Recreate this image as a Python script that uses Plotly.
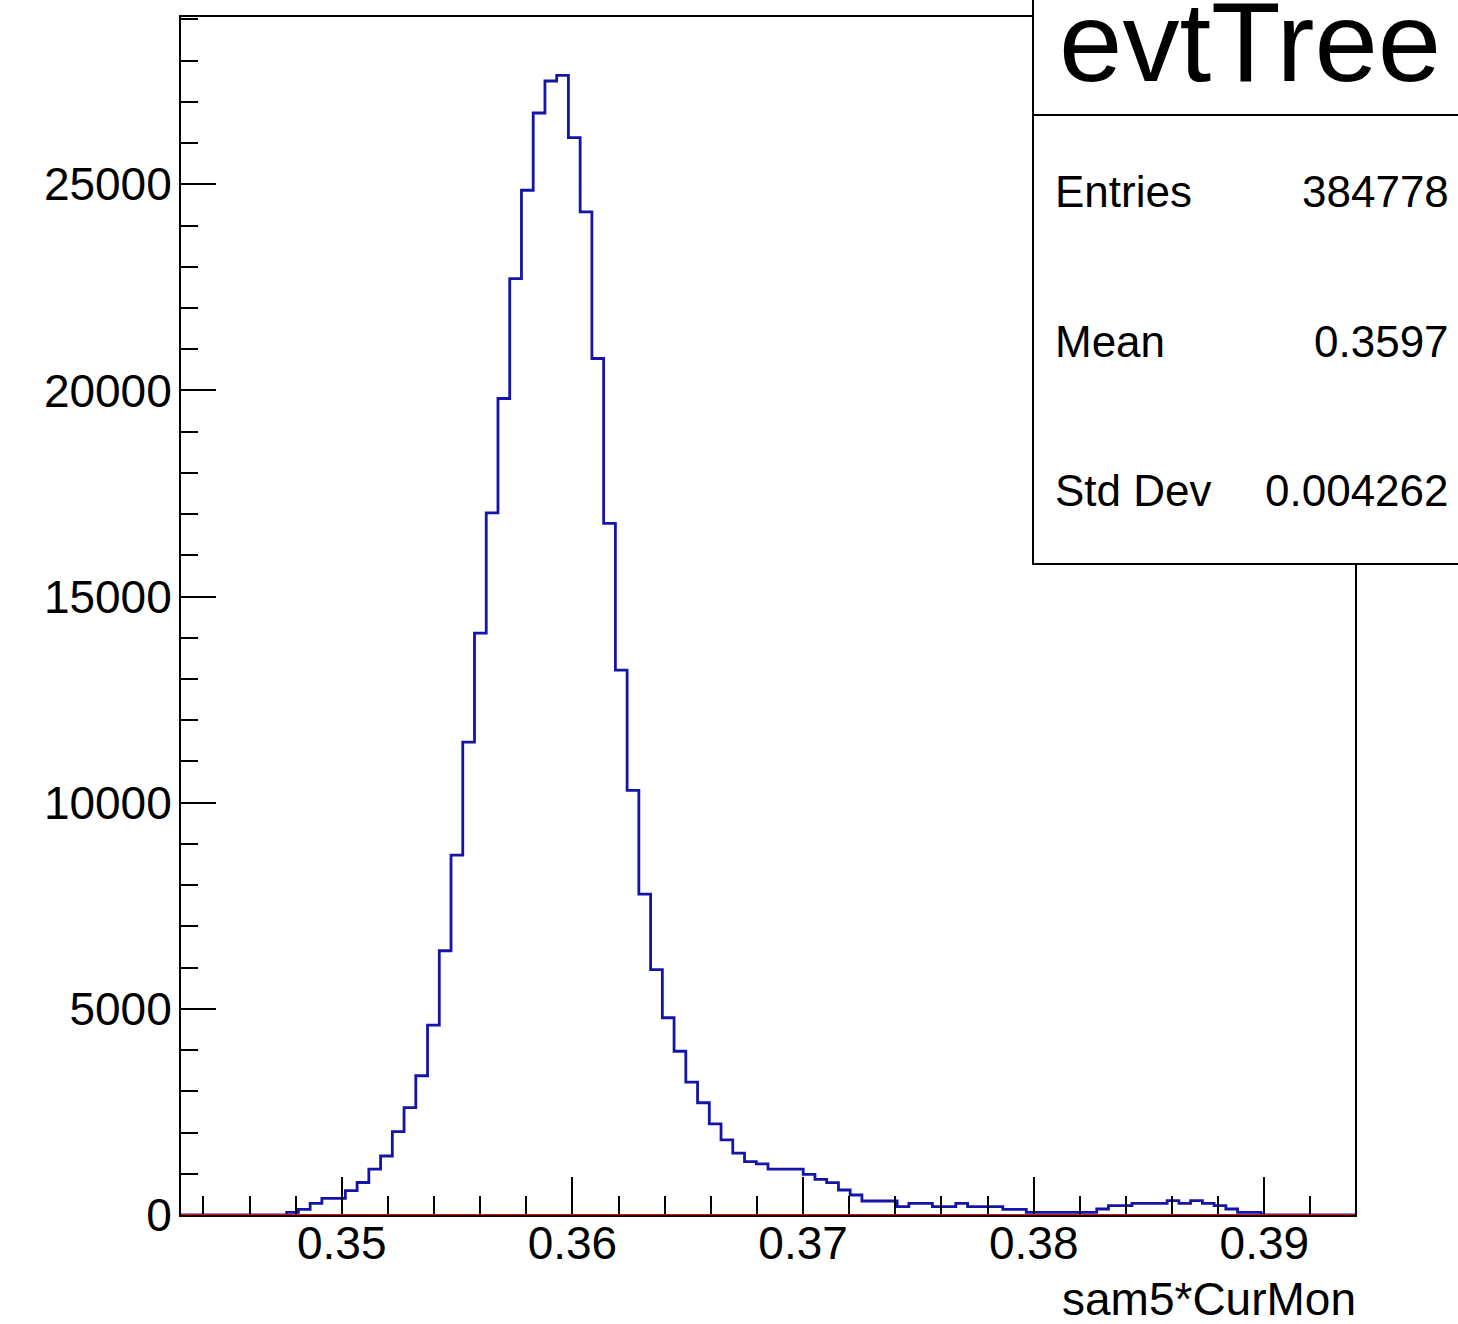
import plotly.graph_objects as go

# ---------------- data ----------------
N_BINS = 100
X_MIN = 0.34303
X_MAX = 0.39393
Y_MAX = 29057

counts = [
    0, 0, 0, 0, 0, 0, 0, 0, 0, 65,
    138, 284, 405, 405, 589, 788, 1115, 1431, 2020, 2602,
    3378, 4607, 6409, 8730, 11469, 14113, 17030, 19804, 22713, 24855,
    26729, 27505, 27643, 26133, 24328, 20774, 16773, 13215, 10298, 7781,
    5953, 4784, 3972, 3225, 2723, 2211, 1821, 1499, 1297, 1242,
    1115, 1115, 1115, 987, 866, 783, 606, 485, 339, 339,
    339, 201, 284, 284, 201, 201, 284, 201, 201, 201,
    138, 138, 65, 65, 65, 65, 65, 65, 145, 226,
    226, 284, 284, 284, 347, 284, 347, 284, 226, 145,
    65, 65, 0, 0, 0, 0, 0, 0, 0, 0,
]

stats_title = "evtTree"
stats_labels = ["Entries", "Mean", "Std Dev"]
stats_values = ["384778", "0.3597", "0.004262"]
x_title = "sam5*CurMon"

# ---------------- layout geometry (pixels) ----------------
W, H = 1458, 1324
L, R, T, B = 181, 103, 17, 109
PW = W - L - R
PH = H - T - B


def px(x):
    return (x - L) / PW


def py(y):
    return (H - B - y) / PH


bw = (X_MAX - X_MIN) / N_BINS
edges = [X_MIN + i * bw for i in range(N_BINS + 1)]
step_y = counts + [counts[-1]]

FONT = "Liberation Sans, Arial, Helvetica, sans-serif"

fig = go.Figure()
fig.add_trace(go.Scatter(
    x=edges, y=step_y, mode="lines", line_shape="hv",
    line=dict(color="#1414a8", width=2.8), hoverinfo="skip", showlegend=False,
))

axis_common = dict(
    showgrid=False, zeroline=False, showline=True, mirror=True,
    linecolor="black", linewidth=2,
    ticks="inside", tickcolor="black", tickwidth=2,
    tickfont=dict(family=FONT, size=46, color="black"),
)

fig.update_xaxes(
    range=[X_MIN, X_MAX], dtick=0.01, tick0=0.35, ticklen=38,
    tickformat=".2f",
    minor=dict(ticks="inside", dtick=0.002, tick0=0.35, ticklen=19,
               tickcolor="black", tickwidth=2),
    ticklabelstandoff=-13,
    **axis_common,
)
fig.update_yaxes(
    range=[0, Y_MAX], dtick=5000, tick0=0, ticklen=35,
    tickformat="d",
    minor=dict(ticks="inside", dtick=1000, ticklen=17,
               tickcolor="black", tickwidth=2),
    ticklabelstandoff=-2,
    **axis_common,
)

shapes = [
    # red line at zero
    dict(type="line", xref="paper", yref="y", x0=0, x1=1, y0=0, y1=0,
         line=dict(color="#ff0000", width=2), layer="above"),
    # stats box
    dict(type="rect", xref="paper", yref="paper",
         x0=px(1033), x1=px(1475), y0=py(564), y1=py(-30),
         fillcolor="white", line=dict(color="black", width=2), layer="above"),
    dict(type="line", xref="paper", yref="paper",
         x0=px(1033), x1=px(1475), y0=py(115), y1=py(115),
         line=dict(color="black", width=2), layer="above"),
]

annotations = [
    dict(text=stats_title, xref="paper", yref="paper", x=px(1250), y=py(41),
         xanchor="center", yanchor="middle", showarrow=False,
         font=dict(family=FONT, size=114, color="black")),
    dict(text=x_title, xref="paper", yref="paper", x=px(1358), y=py(1299),
         xanchor="right", yanchor="middle", showarrow=False,
         font=dict(family=FONT, size=46, color="black")),
]
row_y = [192, 341, 491]
for lab, val, yy in zip(stats_labels, stats_values, row_y):
    annotations.append(dict(text=lab, xref="paper", yref="paper", x=px(1053), y=py(yy),
                            xanchor="left", yanchor="middle", showarrow=False,
                            font=dict(family=FONT, size=44, color="black")))
    annotations.append(dict(text=val, xref="paper", yref="paper", x=px(1451), y=py(yy),
                            xanchor="right", yanchor="middle", showarrow=False,
                            font=dict(family=FONT, size=44, color="black")))

fig.update_layout(
    width=W, height=H,
    margin=dict(l=L, r=R, t=T, b=B, pad=0),
    paper_bgcolor="white", plot_bgcolor="white",
    shapes=shapes, annotations=annotations,
    showlegend=False,
)

fig.write_html(
    "out.html",
    config={"displayModeBar": False},
    post_script="document.body.style.margin='0px';document.body.style.overflow='hidden';",
)
